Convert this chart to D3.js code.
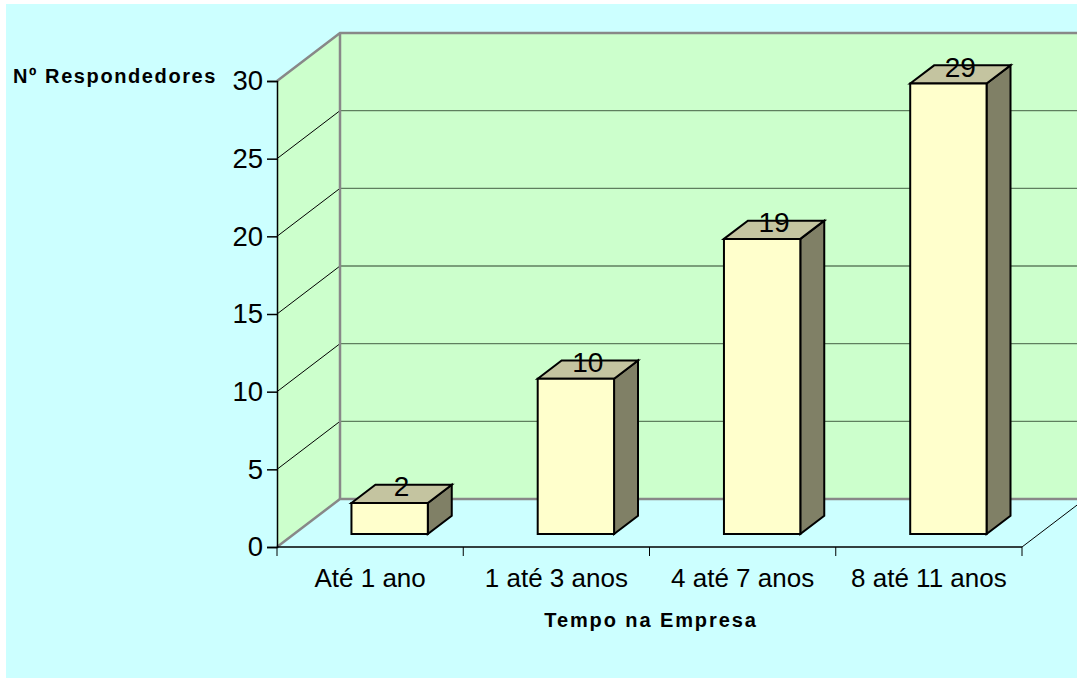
<!DOCTYPE html>
<html>
<head>
<meta charset="utf-8">
<script src="https://cdn.jsdelivr.net/npm/d3@7"></script>
<style>
  body { margin: 0; background: #ffffff; }
  svg text { font-family: "Liberation Sans", Arial, sans-serif; }
</style>
</head>
<body>
<div id="chart"></div>
<script>
// data
const categories = ["Até 1 ano", "1 até 3 anos", "4 até 7 anos", "8 até 11 anos"]
const values = [2, 10, 19, 29]
const yTicks = [0, 5, 10, 15, 20, 25, 30]
const yTitle = "Nº Respondedores"
const xTitle = "Tempo na Empresa"

const W = 1077, H = 679
const plot = {left: 277, right: 1022, bottom: 547, top: 81}
// depth of the 3D box
const depthX = 63, depthY = -48
const barFront = 0.27, barBack = 0.65

const svg = d3.select("#chart")
    .append("svg")
    .attr("width", W)
    .attr("height", H)

svg.append("rect")
    .attr("x", 6).attr("y", 4)
    .attr("width", W - 6).attr("height", H - 5)
    .attr("fill", "#ccffff")

const x = d3.scaleBand()
    .domain(categories)
    .range([plot.left, plot.right])

const y = d3.scaleLinear()
    .domain([0, 30])
    .range([plot.bottom, plot.top])

const L = plot.left, R = plot.right

// shift a point back into depth
const dp = (px, py, f) => [px + depthX * f, py + depthY * f]
const line = d3.line()

// walls
const wall = svg.append("g")

wall.append("path")
    .attr("d", line([[L, y(0)], [L, y(30)], dp(L, y(30), 1), dp(L, y(0), 1)]) + "Z")
    .attr("fill", "#ccffcc")

wall.append("rect")
    .attr("x", L + depthX).attr("y", y(30) + depthY)
    .attr("width", W - L - depthX).attr("height", y(0) - y(30))
    .attr("fill", "#ccffcc")

// floor
wall.append("path")
    .attr("d", line([[L, y(0)], dp(L, y(0), 1), dp(R, y(0), 1), [R, y(0)]]) + "Z")
    .attr("fill", "#ccffff")

// gridlines: back wall + left wall diagonals
const grid = yTicks.filter(t => t > 0 && t < 30)
wall.selectAll(".gback")
    .data(grid)
    .enter()
    .append("line")
    .attr("x1", L + depthX).attr("x2", W)
    .attr("y1", d => y(d) + depthY).attr("y2", d => y(d) + depthY)
    .attr("stroke", "#5f7f5f")
    .attr("stroke-width", 1.3)

wall.selectAll(".gside")
    .data(grid)
    .enter()
    .append("line")
    .attr("x1", L).attr("y1", d => y(d))
    .attr("x2", L + depthX).attr("y2", d => y(d) + depthY)
    .attr("stroke", "#000")
    .attr("stroke-width", 1)

// wall edges
const edges = [
    [[L, y(30)], dp(L, y(30), 1), [W, y(30) + depthY]],
    [dp(L, y(30), 1), dp(L, y(0), 1)],
    [[L, y(0)], dp(L, y(0), 1), [W, y(0) + depthY]]
]
wall.selectAll(".edge")
    .data(edges)
    .enter()
    .append("path")
    .attr("d", d => line(d))
    .attr("fill", "none")
    .attr("stroke", "#888888")
    .attr("stroke-width", 2.5)

wall.append("line")
    .attr("x1", R).attr("y1", y(0))
    .attr("x2", R + depthX).attr("y2", y(0) + depthY)
    .attr("stroke", "#000")
    .attr("stroke-width", 1)

// y axis
const yAxis = svg.append("g")
    .attr("transform", `translate(${L},0)`)
    .call(d3.axisLeft(y).tickValues(yTicks).tickSize(10).tickPadding(4))

yAxis.select(".domain").attr("stroke", "#000").attr("stroke-width", 1.5)
yAxis.selectAll(".tick line").attr("stroke", "#000").attr("stroke-width", 1.5)
yAxis.selectAll(".tick text")
    .attr("font-size", 27.5)
    .attr("font-family", "Liberation Sans, Arial, sans-serif")
    .attr("fill", "#000")

// x axis
svg.append("line")
    .attr("x1", L).attr("x2", R)
    .attr("y1", y(0)).attr("y2", y(0))
    .attr("stroke", "#000").attr("stroke-width", 1.5)

const xBounds = categories.map(c => x(c)).concat([R])
svg.selectAll(".xtick")
    .data(xBounds)
    .enter()
    .append("line")
    .attr("x1", d => d).attr("x2", d => d)
    .attr("y1", y(0)).attr("y2", y(0) + 9)
    .attr("stroke", "#000").attr("stroke-width", 1)

svg.selectAll(".xlabel")
    .data(categories)
    .enter()
    .append("text")
    .attr("x", d => x(d) + x.bandwidth() / 2)
    .attr("y", 587)
    .attr("text-anchor", "middle")
    .attr("font-size", 26)
    .text(d => d)

// bars
const bw = x.bandwidth() * 0.41
const bars = svg.selectAll(".bar")
    .data(categories.map((c, i) => ({c, v: values[i]})))
    .enter()
    .append("g")

bars.each(function(d) {
    const g = d3.select(this)
    const x0 = x(d.c) + (x.bandwidth() - bw) / 2 + 2.5
    const x1 = x0 + bw
    const fl = dp(x0, y(d.v), barFront), fr = dp(x1, y(d.v), barFront)
    const bl = dp(x0, y(d.v), barBack), br = dp(x1, y(d.v), barBack)
    const fb = dp(x1, y(0), barFront), bb = dp(x1, y(0), barBack)
    const flb = dp(x0, y(0), barFront)

    g.append("path")
        .attr("d", line([fr, br, bb, fb]) + "Z")
        .attr("fill", "#808066")
    g.append("path")
        .attr("d", line([fl, bl, br, fr]) + "Z")
        .attr("fill", "#c4c4a0")
    g.append("path")
        .attr("d", line([fl, fr, fb, flb]) + "Z")
        .attr("fill", "#ffffcc")
    g.selectAll("path")
        .attr("stroke", "#000")
        .attr("stroke-width", 2)
        .attr("stroke-linejoin", "miter")

    g.append("text")
        .attr("x", (fl[0] + br[0]) / 2)
        .attr("y", fl[1] - 7)
        .attr("text-anchor", "middle")
        .attr("font-size", 28)
        .text(d.v)
})

// axis titles
svg.append("text")
    .attr("x", 13).attr("y", 83)
    .attr("font-size", 20)
    .attr("font-weight", "bold")
    .attr("letter-spacing", 1.6)
    .text(yTitle)

svg.append("text")
    .attr("x", 651).attr("y", 627)
    .attr("text-anchor", "middle")
    .attr("font-size", 20)
    .attr("font-weight", "bold")
    .attr("letter-spacing", 1.9)
    .text(xTitle)
</script>
</body>
</html>
